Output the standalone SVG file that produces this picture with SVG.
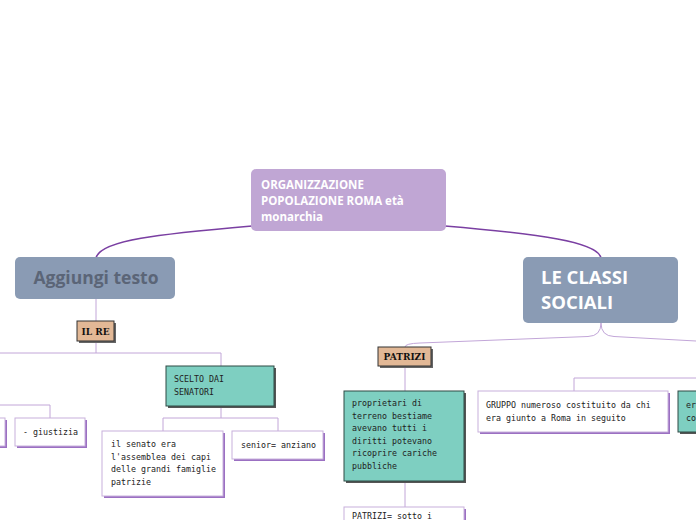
<svg xmlns="http://www.w3.org/2000/svg" width="696" height="520" viewBox="0 0 696 520">
<style>
.main{font-family:"Open Sans","Noto Sans",sans-serif;font-weight:700}
.mono{font-family:"DejaVu Sans Mono","Liberation Mono",monospace;font-size:8.3px;fill:#222}
.tag{font-family:"DejaVu Serif","Liberation Serif",serif;font-weight:700;font-size:9px;fill:#111}
.thin{fill:none;stroke:#c2a6d8;stroke-width:1}
.thick{fill:none;stroke:#7a3fa2;stroke-width:1.6}
.wbox{fill:#fff;stroke:#c8b0dc;stroke-width:1}
.wsh{fill:#9b70c2}
.teal{fill:#7ecfc1;stroke:#2f4a45;stroke-width:1}
.tsh{fill:#555}
.tan{fill:#e2b896;stroke:#333;stroke-width:1}
</style>
<rect width="696" height="520" fill="#fff"/>
<g id="connectors">
<path class="thick" d="M252,226 C160,234 100,240 96,258"/>
<path class="thick" d="M445,226 C540,234 598,242 601,258"/>
<path class="thin" d="M96,299 V321 M96,341 V353 M0,353 H221 V366"/>
<path class="thin" d="M0,405 H50 V418"/>
<path class="thin" d="M221,406 V418 M163,431 V418 H278 V431"/>
<path class="thin" d="M601,323 Q601,336 588,336.5 L420,343 Q405,343.5 405,347"/>
<path class="thin" d="M601,323 Q601,336 614,336.5 L696,341"/>
<path class="thin" d="M405,366 V391 M405,482 V507"/>
<path class="thin" d="M574,391 V378 H696"/>
</g>
<g id="n-root">
<rect x="251" y="169" width="195" height="62" rx="5" fill="#c0a6d4"/>
<text class="main" font-size="11.5" font-weight="600" fill="#fff"><tspan x="261" y="189">ORGANIZZAZIONE</tspan><tspan x="261" y="205">POPOLAZIONE ROMA età</tspan><tspan x="261" y="221">monarchia</tspan></text>
</g>
<g id="n-aggiungi">
<rect x="15" y="257" width="160" height="42" rx="5" fill="#8a9bb4"/>
<text class="main" x="96" y="284" font-size="17.5" fill="#5b6577" text-anchor="middle">Aggiungi testo</text>
</g>
<g id="n-ilre">
<rect x="79" y="323" width="37" height="20" fill="#666"/>
<rect class="tan" x="77" y="321" width="37" height="20"/>
<text class="tag" x="95.5" y="334.5" text-anchor="middle">IL RE</text>
</g>
<g id="n-left-partial">
<rect x="-10" y="420" width="17" height="28" class="wsh"/>
<rect x="-12" y="418" width="17" height="28" class="wbox"/>
</g>
<g id="n-giustizia">
<rect x="17" y="420" width="70" height="28" class="wsh"/>
<rect x="15" y="418" width="70" height="28" class="wbox"/>
<text class="mono" x="23" y="435">- giustizia</text>
</g>
<g id="n-scelto">
<rect x="168" y="368" width="108" height="40" class="tsh"/>
<rect x="166" y="366" width="108" height="40" class="teal"/>
<text class="mono"><tspan x="174" y="382">SCELTO DAI</tspan><tspan x="174" y="395">SENATORI</tspan></text>
</g>
<g id="n-senato">
<rect x="104" y="433" width="121" height="65" class="wsh"/>
<rect x="102" y="431" width="121" height="65" class="wbox"/>
<text class="mono"><tspan x="111" y="447">il senato era</tspan><tspan x="111" y="460">l'assemblea dei capi</tspan><tspan x="111" y="472">delle grandi famiglie</tspan><tspan x="111" y="485">patrizie</tspan></text>
</g>
<g id="n-senior">
<rect x="234" y="433" width="91" height="28" class="wsh"/>
<rect x="232" y="431" width="91" height="28" class="wbox"/>
<text class="mono" x="241" y="448">senior= anziano</text>
</g>
<g id="n-classi">
<rect x="523" y="257" width="155" height="66" rx="5" fill="#8a9bb4"/>
<text class="main" font-size="18.5" font-weight="600" fill="#fff"><tspan x="541" y="284">LE CLASSI</tspan><tspan x="541" y="309">SOCIALI</tspan></text>
</g>
<g id="n-patrizi">
<rect x="380" y="349" width="53" height="19" fill="#666"/>
<rect class="tan" x="378" y="347" width="53" height="19"/>
<text class="tag" x="404.5" y="360" text-anchor="middle">PATRIZI</text>
</g>
<g id="n-proprietari">
<rect x="346" y="393" width="120" height="90" class="tsh"/>
<rect x="344" y="391" width="120" height="90" class="teal"/>
<text class="mono"><tspan x="352" y="406">proprietari di</tspan><tspan x="352" y="419">terreno bestiame</tspan><tspan x="352" y="431">avevano tutti i</tspan><tspan x="352" y="444">diritti potevano</tspan><tspan x="352" y="456">ricoprire cariche</tspan><tspan x="352" y="469">pubbliche</tspan></text>
</g>
<g id="n-patrizi-sotto">
<rect x="346" y="509" width="120" height="30" class="wsh"/>
<rect x="344" y="507" width="120" height="30" class="wbox"/>
<text class="mono" x="352" y="519">PATRIZI= sotto i</text>
</g>
<g id="n-gruppo">
<rect x="480" y="393" width="190" height="41" class="wsh"/>
<rect x="478" y="391" width="190" height="41" class="wbox"/>
<text class="mono"><tspan x="486" y="408">GRUPPO numeroso costituito da chi</tspan><tspan x="486" y="421">era giunto a Roma in seguito</tspan></text>
</g>
<g id="n-right-partial">
<rect x="680" y="393" width="40" height="41" class="tsh"/>
<rect x="678" y="391" width="40" height="41" class="teal"/>
<text class="mono"><tspan x="686" y="408">er</tspan><tspan x="686" y="421">co</tspan></text>
</g>
</svg>
